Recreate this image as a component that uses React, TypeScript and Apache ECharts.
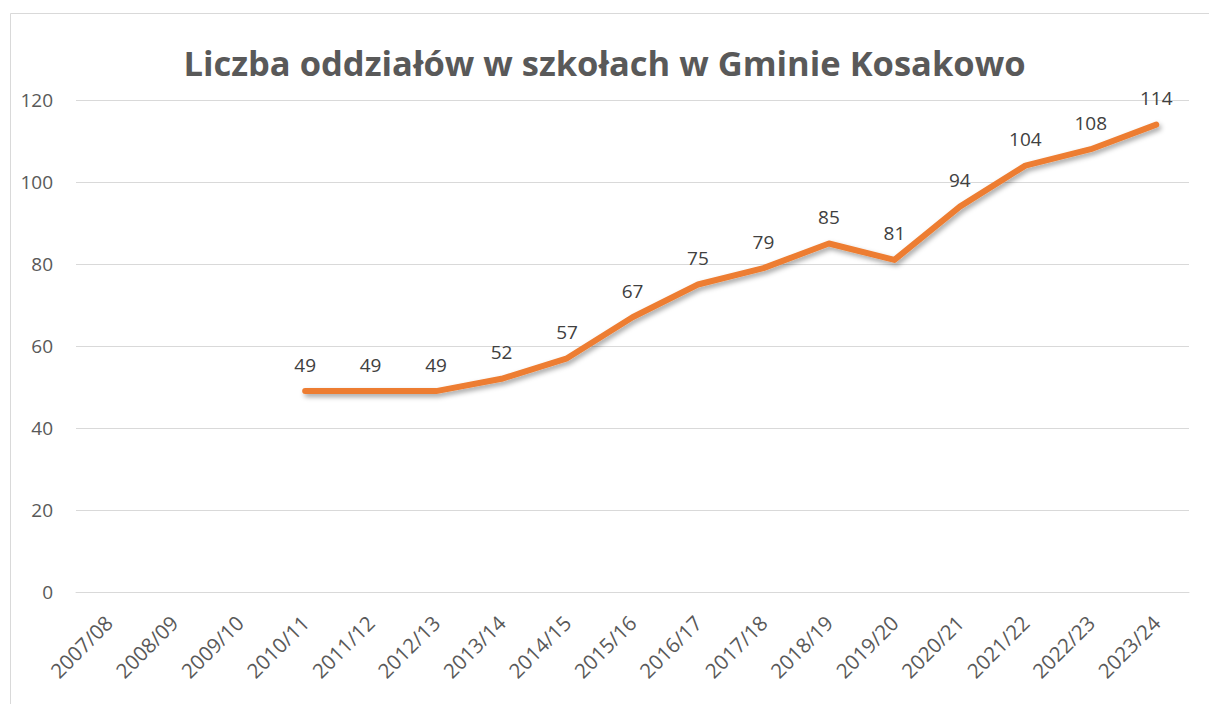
import React, { useEffect, useRef } from "react";
import * as echarts from "echarts";

const categories = [
  "2007/08", "2008/09", "2009/10", "2010/11", "2011/12", "2012/13", "2013/14", "2014/15",
  "2015/16", "2016/17", "2017/18", "2018/19", "2019/20", "2020/21", "2021/22", "2022/23", "2023/24",
];
const values: (number | null)[] = [
  null, null, null, 49, 49, 49, 52, 57, 67, 75, 79, 85, 81, 94, 104, 108, 114,
];
const titleText = "Liczba oddziałów w szkołach w Gminie Kosakowo";

export default function App() {
  const ref = useRef<HTMLDivElement>(null);
  useEffect(() => {
    if (!ref.current) return;
    const chart = echarts.init(ref.current, null, { renderer: "svg" });
    chart.setOption({
      animation: false,
      backgroundColor: "#ffffff",
      title: {
        text: titleText,
        left: "center",
        top: 40,
        textStyle: {
          fontFamily: "Open Sans",
          fontSize: 34.5,
          fontWeight: "bold",
          color: "#595959",
        },
      },
      graphic: [
        {
          type: "rect",
          shape: { x: 10.5, y: 13.5, width: 1210, height: 700 },
          style: { fill: "none", stroke: "#d9d9d9", lineWidth: 1 },
          silent: true,
        },
      ],
      grid: { left: 76, right: 20, top: 100, bottom: 112, containLabel: false },
      xAxis: {
        type: "category",
        data: categories,
        boundaryGap: true,
        axisLine: { show: true, lineStyle: { color: "#d9d9d9", width: 1 } },
        axisTick: { show: false },
        axisLabel: {
          rotate: 45,
          fontFamily: "Open Sans",
          fontSize: 20.5,
          color: "#595959",
          margin: 27,
          interval: 0,
        },
      },
      yAxis: {
        type: "value",
        min: 0,
        max: 120,
        interval: 20,
        axisLine: { show: false },
        axisTick: { show: false },
        splitLine: { lineStyle: { color: "#d9d9d9", width: 1 } },
        axisLabel: {
          fontFamily: "Open Sans",
          fontSize: 19,
          color: "#595959",
          margin: 23,
        },
      },
      series: [
        {
          type: "line",
          data: values,
          connectNulls: false,
          symbol: "circle",
          symbolSize: 2,
          showSymbol: true,
          itemStyle: { color: "rgba(237,125,49,0)" },
          lineStyle: {
            color: "#ED7D31",
            width: 6,
            cap: "round",
            join: "round",
            shadowColor: "rgba(0,0,0,0.35)",
            shadowBlur: 5,
            shadowOffsetX: 2,
            shadowOffsetY: 3,
          },
          label: {
            show: true,
            position: "top",
            distance: 16,
            fontFamily: "Open Sans",
            fontSize: 19,
            color: "#404040",
          },
        },
      ],
    });
    return () => chart.dispose();
  }, []);
  return (
    <div
      ref={ref}
      style={{ position: "fixed", left: 0, top: 0, width: 1209, height: 704 }}
    />
  );
}
